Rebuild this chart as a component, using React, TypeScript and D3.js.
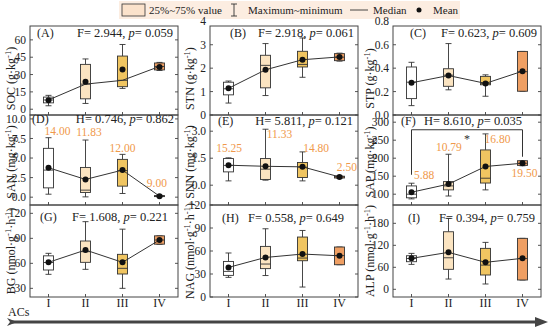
import * as React from "react";
import * as d3 from "d3";

const W = 550;
const H = 330;
const FONT = "'Liberation Serif', 'Times New Roman', serif";

const GROUPS = ["I", "II", "III", "IV"];
const FILLS = ["#ffffff", "#fbe4c1", "#f0c561", "#ef9f63"];
const NOTE_COLOR = "#f0994a";

// box stats per group: [min, q1, median, q3, max]
const socBox = [[3, 5.5, 8, 10.5, 12], [5, 9, 21.7, 38.8, 43.5], [18, 19.5, 25, 46, 56], [33.5, 34, 37, 40, 40.5]];
const socMean = [7.8, 23.7, 34.4, 36.5];
const stnBox = [[0.51, 0.86, 1.12, 1.4, 1.45], [0.83, 1.16, 2.12, 2.55, 3.05], [1.61, 2.05, 2.16, 2.72, 3.29], [2.3, 2.32, 2.47, 2.62, 2.64]];
const stnMean = [1.14, 1.93, 2.36, 2.48];
const stpBox = [[0.08, 0.14, 0.28, 0.41, 0.45], [0.215, 0.245, 0.34, 0.395, 0.61], [0.16, 0.258, 0.27, 0.33, 0.343], [0.203, 0.203, 0.37, 0.543, 0.543]];
const stpMean = [0.275, 0.337, 0.27, 0.374];
const sanBox = [[0.38, 1.19, 3.46, 6.24, 7.6], [0.04, 0.6, 0.9, 3.8, 7.3], [0.47, 1.41, 3.4, 4.83, 5.47], [0.05, 0.1, 0.15, 0.2, 0.25]];
const sanMean = [3.76, 2.27, 3.46, 0.13];
const snnBox = [[0.24, 0.74, 1.1, 1.48, 1.52], [0.28, 0.32, 0.89, 1.48, 3.11], [0.24, 0.43, 1.0, 1.26, 1.85], [0.38, 0.4, 0.46, 0.5, 0.52]];
const snnMean = [1.11, 1.05, 1.02, 0.46];
const sapBox = [[87, 90, 100, 123, 130.5], [95, 112, 123, 135, 211], [112, 131, 144.4, 223, 267.5], [179, 180, 186, 193, 193]];
const sapMean = [105.5, 128, 177, 186];
const bgBox = [[46.8, 52, 61, 69, 72], [52.8, 61.2, 74, 86.8, 110], [30, 47.2, 54, 70.8, 101], [82.8, 83, 88, 93, 93]];
const bgMean = [61.2, 76, 61.2, 88];
const nagBox = [[25.6, 28.2, 33.4, 46.4, 57.4], [28, 37, 43, 66, 89], [13, 47.3, 50.8, 78.2, 86.8], [42.1, 42.1, 54, 65.2, 65.2]];
const nagMean = [38.6, 51.6, 56, 53.8];
const alpBox = [[68, 75.3, 84, 91.6, 98], [28, 54.5, 86, 157, 193.5], [14.5, 39, 66, 111.7, 128], [25.4, 25.4, 84, 139, 139]];
const alpMean = [84.5, 100.8, 73.6, 84.5];

const panelIds = ["A", "B", "C", "D", "E", "F", "G", "H", "I"];
const varNames = ["SOC", "STN", "STP", "SAN", "SNN", "SAP", "BG", "NAG", "ALP"];
const varUnits = [
  ["g·kg", "-1"], ["g·kg", "-1"], ["g·kg", "-1"],
  ["mg·kg", "-1"], ["mg·kg", "-1"], ["mg·kg", "-1"],
  ["nmol·g", "-1", "·h", "-1"], ["nmol·g", "-1", "·h", "-1"], ["nmol·g", "-1", "·h", "-1"],
];
const statNames = ["F", "F", "F", "H", "H", "H", "F", "F", "F"];
const statValues = ["2.944", "2.918", "0.623", "0.746", "5.811", "8.610", "1.608", "0.558", "0.394"];
const pValues = ["0.059", "0.061", "0.609", "0.862", "0.121", "0.035", "0.221", "0.649", "0.759"];
const yDomains = [[-5, 72], [0, 3.8], [0, 0.76], [-1, 10.5], [-1.1, 3.9], [70, 320], [19.6, 130], [0, 120], [-21, 230]];
const yTicks = [
  [0, 15, 30, 45, 60], [0, 1, 2, 3, 4], [0, 0.2, 0.4, 0.6, 0.8],
  [0, 2.5, 5, 7.5, 10], [0, 1.5, 3], [100, 150, 200, 250, 300],
  [30, 60, 90, 120], [0, 30, 60, 90, 120], [0, 60, 120, 180],
];
const tickFormats = ["d", "d", ".1f", ".1f", ".1f", "d", "d", "d", "d"];

// orange numbers above groups (text, value they sit at)
const sanNotes = ["14.00", "11.83", "12.00", "9.00"];
const sanNoteAt = [8.46, 8.33, 6.28, 1.79];
const snnNotes = ["15.25", "11.33", "14.80", "2.50"];
const snnNoteAt = [2.06, 2.85, 2.06, 1.0];
const sapNotes = ["5.88", "10.79", "16.80", "19.50"];
const sapNoteAt = [153.6, 231, 253, 159];

// significance bracket in SAP: [top, left end, right end]
const sapBracket = [279, 154, 204];

const boxes = [socBox, stnBox, stpBox, sanBox, snnBox, sapBox, bgBox, nagBox, alpBox];
const means = [socMean, stnMean, stpMean, sanMean, snnMean, sapMean, bgMean, nagMean, alpMean];

// layout
const colX = [30, 210, 393];
const titleDx = [15, 16, 19];
const panelW = 148;
const rowY = [26, 115, 205, 297];
const titleShift = [8, 2, 0];
const labelDx = [7, 20, 17, 2, 8, 8, 10, 12, 15];
const statPos: [string, number][] = [
  ["end", -5], ["end", -4], ["end", -4],
  ["end", -4], ["end", -5], ["middle", 80],
  ["start", 42], ["start", 38], ["end", -6],
];
const statBase = [37, 37, 37, 123, 125, 125, 221, 222, 222];
const noteDx: Record<number, number[]> = { 3: [9, 3.5, 0, -2.6], 4: [0.6, 14, 13.6, 7.4], 5: [12.6, 0.4, 12, 2] };

const Panel: React.FC<{ i: number }> = ({ i }) => {
  const col = i % 3;
  const row = Math.floor(i / 3);
  const left = colX[col];
  const right = left + panelW;
  const top = rowY[row];
  const bottom = rowY[row + 1];

  const x = d3.scaleBand().domain(GROUPS).range([left, right]);
  const cx = (g: string) => (x(g) as number) + x.bandwidth() / 2;
  const y = d3.scaleLinear().domain(yDomains[i]).range([bottom, top]);
  const fmt = d3.format(tickFormats[i]);

  const data = boxes[i];
  const mean = means[i];
  // panel A connects medians, the others the means
  const lineVals = i === 0 ? data.map((d) => d[2]) : mean;
  const line = d3.line<number>().x((_, k) => cx(GROUPS[k])).y((v) => y(v));

  const bw = 10;
  const cap = 3;
  const units = varUnits[i];
  const [anchor, off] = statPos[i];
  const statX = anchor === "end" ? right + off : left + off;

  const notes = i === 3 ? [sanNotes, sanNoteAt] : i === 4 ? [snnNotes, snnNoteAt] : i === 5 ? [sapNotes, sapNoteAt] : null;

  return (
    <g>
      {/* y ticks */}
      {yTicks[i].map((t) => (
        <g key={t}>
          <text x={left - 4} y={y(t)} dy="0.35em" textAnchor="end" fontSize={11.5} fill="#222">{fmt(t)}</text>
          {t >= yDomains[i][0] && t <= yDomains[i][1] && (
            <>
              <line x1={left} x2={left + 3} y1={y(t)} y2={y(t)} stroke="#555" />
              <line x1={right} x2={right - 3} y1={y(t)} y2={y(t)} stroke="#555" />
            </>
          )}
        </g>
      ))}
      {GROUPS.map((g) => (
        <line key={g} x1={cx(g)} x2={cx(g)} y1={bottom} y2={bottom - 3} stroke="#555" />
      ))}
      {/* y title */}
      <text
        transform={`translate(${left - titleDx[col]},${(top + bottom) / 2 + titleShift[row]}) rotate(-90)`}
        textAnchor="middle"
        fontSize={12}
        fill="#222"
      >
        {varNames[i]} ({units[0]}
        <tspan dy={-4} fontSize={8.5}>{units[1]}</tspan>
        {units.length > 2 ? (
          <>
            <tspan dy={4}>{units[2]}</tspan>
            <tspan dy={-4} fontSize={8.5}>{units[3]}</tspan>
            <tspan dy={4}>)</tspan>
          </>
        ) : (
          <tspan dy={4}>)</tspan>
        )}
      </text>
      {/* boxes */}
      {data.map((d, k) => {
        const c = cx(GROUPS[k]);
        return (
          <g key={k} stroke="#333" strokeWidth={0.9}>
            <line x1={c} x2={c} y1={y(d[4])} y2={y(d[3])} />
            <line x1={c} x2={c} y1={y(d[1])} y2={y(d[0])} />
            <line x1={c - cap} x2={c + cap} y1={y(d[4])} y2={y(d[4])} />
            <line x1={c - cap} x2={c + cap} y1={y(d[0])} y2={y(d[0])} />
            <rect x={c - bw / 2} y={y(d[3])} width={bw} height={Math.max(1, y(d[1]) - y(d[3]))} fill={FILLS[k]} />
            <line x1={c - bw / 2} x2={c + bw / 2} y1={y(d[2])} y2={y(d[2])} />
          </g>
        );
      })}
      <path d={line(lineVals) ?? ""} fill="none" stroke="#333" strokeWidth={1} />
      {mean.map((m, k) => (
        <circle key={k} cx={cx(GROUPS[k])} cy={y(m)} r={3} fill="#111" />
      ))}
      {notes &&
        notes[0].map((t, k) => (
          <text key={k} x={cx(GROUPS[k]) + noteDx[i][k]} y={y(notes[1][k] as number)} dy="0.35em" textAnchor="middle" fontSize={11.5} fill={NOTE_COLOR}>
            {t}
          </text>
        ))}
      {i === 5 && (
        <g>
          <path
            d={`M${cx("I")},${y(sapBracket[1])}V${y(sapBracket[0])}H${cx("IV")}V${y(sapBracket[2])}`}
            fill="none"
            stroke="#333"
            strokeWidth={1}
          />
          <text x={(cx("II") + cx("III")) / 2} y={y(sapBracket[0]) + 13} textAnchor="middle" fontSize={12} fill="#333">*</text>
        </g>
      )}
      {/* frame */}
      <rect x={left} y={top} width={panelW} height={bottom - top} fill="none" stroke="#444" strokeWidth={1} />
      <text x={left + labelDx[i]} y={statBase[i]} fontSize={12} fill="#222">({panelIds[i]})</text>
      <text x={statX} y={statBase[i]} textAnchor={anchor as any} fontSize={12.5} fill="#222">
        {statNames[i]}= {statValues[i]}, <tspan fontStyle="italic">p</tspan>= {pValues[i]}
      </text>
      {row === 2 &&
        GROUPS.map((g) => (
          <text key={g} x={cx(g)} y={307} textAnchor="middle" fontSize={12} fill="#222">{g}</text>
        ))}
    </g>
  );
};

export default function App() {
  return (
    <svg width={W} height={H} style={{ position: "absolute", left: 0, top: 0, background: "#fff" }} fontFamily={FONT}>
      {/* legend */}
      <rect x={119} y={1} width={341} height={18} fill="#fcede1" />
      <rect x={122} y={4} width={23} height={12} fill="#fbe2cb" stroke="#333" strokeWidth={0.8} />
      <text x={149} y={14} fontSize={11} fill="#222">25%~75% value</text>
      <g stroke="#333" strokeWidth={0.9}>
        <line x1={234} x2={234} y1={4} y2={16} />
        <line x1={231} x2={237} y1={4} y2={4} />
        <line x1={231} x2={237} y1={16} y2={16} />
        <line x1={350} x2={368} y1={10} y2={10} />
      </g>
      <text x={248} y={14} fontSize={11} fill="#222">Maximum~minimum</text>
      <text x={373} y={14} fontSize={11} fill="#222">Median</text>
      <circle cx={419} cy={10} r={2.5} fill="#111" />
      <text x={433} y={14} fontSize={11} fill="#222">Mean</text>

      {panelIds.map((_, i) => (
        <Panel key={i} i={i} />
      ))}

      <text x={8} y={316} fontSize={12} fill="#222">ACs</text>
      <line x1={12} x2={538} y1={322} y2={322} stroke="#444" strokeWidth={3} />
      <polygon points="7,318 17,322 7,326 10,322" fill="#444" />
      <polygon points="535,317 548,322 535,327" fill="#444" />
    </svg>
  );
}
